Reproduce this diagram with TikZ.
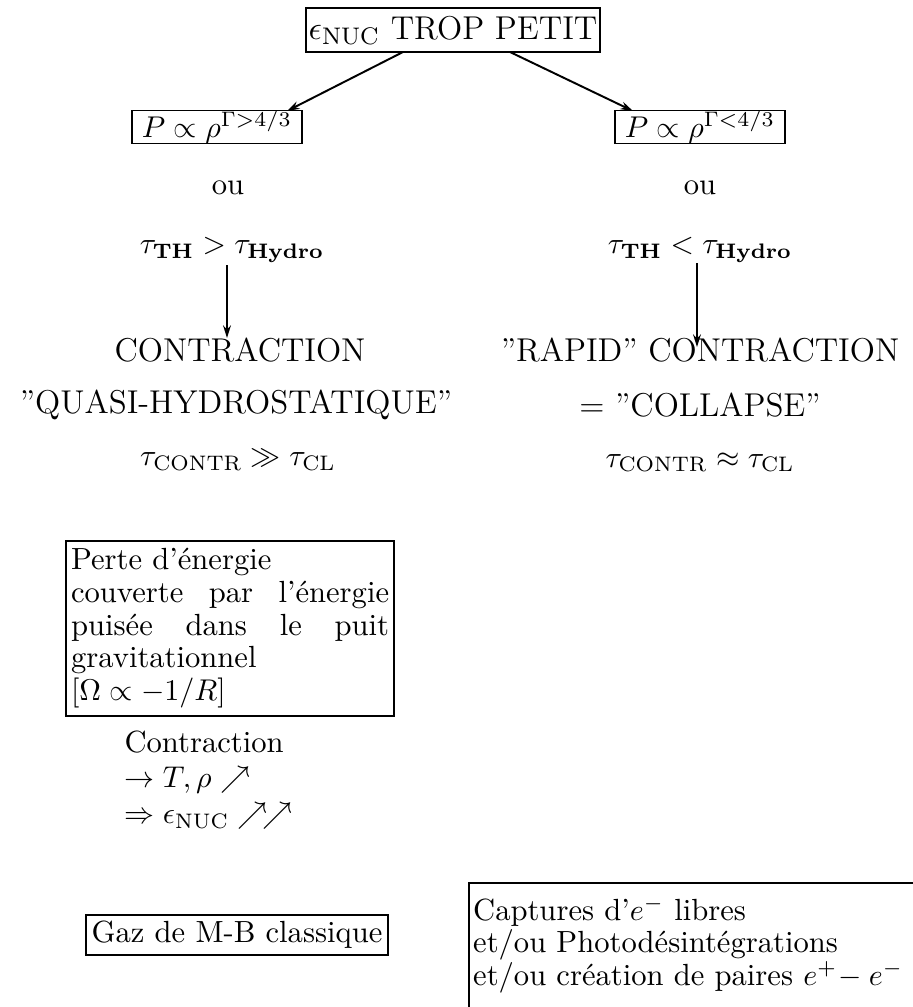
\documentclass[tikz,border=0pt]{standalone}
\usepackage{amsmath,amssymb}
\usetikzlibrary{arrows.meta}
\tikzset{
  bx/.style={draw, line width=0.65pt, inner sep=0pt},
  txt/.style={inner sep=0pt},
  big/.style={font=\fontsize{11}{13}\selectfont},
  nrm/.style={font=\fontsize{10.2}{10.9}\selectfont},
  arr/.style={-{Stealth[length=4.2pt,width=2.6pt]}, line width=0.65pt}
}
\begin{document}
\begin{tikzpicture}[x=0.3333pt,y=-0.3333pt]
\useasboundingbox (0,0) rectangle (913,1007);
% top box
\node[bx,big,minimum width=98.3pt,minimum height=14.7pt] (top) at (453,30) {$\epsilon_{\mathrm{NUC}}$ TROP PETIT};
% P boxes
\node[bx,nrm,minimum width=56.7pt,minimum height=11pt] (pl) at (217,127) {$P\propto\rho^{\Gamma>4/3}$};
\node[bx,nrm,minimum width=56.7pt,minimum height=11pt] (pr) at (700,127) {$P\propto\rho^{\Gamma<4/3}$};
% ou
\node[txt,nrm] (oul) at (228,188) {ou};
\node[txt,nrm] (our) at (700,188) {ou};
% tau
\node[txt,nrm] (tl) at (232,250) {$\tau_{\mathbf{TH}}>\tau_{\mathbf{Hydro}}$};
\node[txt,nrm] (tr) at (700,250) {$\tau_{\mathbf{TH}}<\tau_{\mathbf{Hydro}}$};
% left column
\node[txt,big] (cl) at (240,350) {CONTRACTION};
\node[txt,big] (ql) at (236,405) {”QUASI-HYDROSTATIQUE”};
\node[txt,nrm] (gl) at (238,460) {$\tau_{\mathrm{CONTR}}\gg\tau_{\mathrm{CL}}$};
% right column
\node[txt,big] (cr) at (700,350) {”RAPID” CONTRACTION};
\node[txt,big] (colr) at (700,405) {= ”COLLAPSE”};
\node[txt,nrm] (ar) at (700,462) {$\tau_{\mathrm{CONTR}}\approx\tau_{\mathrm{CL}}$};
% connectors
\coordinate (a1s) at (403,52);
\coordinate (a1e) at (287,111);
\coordinate (a2s) at (510,52);
\coordinate (a2e) at (633,111);
\draw[arr] (a1s) -- (a1e);
\draw[arr] (a2s) -- (a2e);
\coordinate (v1s) at (227,265);
\coordinate (v1e) at (227,338);
\coordinate (v2s) at (697,263);
\coordinate (v2e) at (697,347);
\draw[arr] (v1s) -- (v1e);
\draw[arr] (v2s) -- (v2e);
% Perte box
\node[bx,nrm,text width=106pt,inner xsep=1.7pt,inner ysep=2.5pt,align=left,anchor=north west] (perte) at (65,540) {%
Perte d'énergie\\
\makebox[106pt][l]{couverte\hfill par\hfill l'énergie}\\
\makebox[106pt][l]{puisée\hfill dans\hfill le\hfill puit}\\
gravitationnel\\
$[\Omega\propto -1/R]$};
% contraction text
\node[txt,align=left,anchor=north west,font=\fontsize{10.2}{11.9}\selectfont] (contr) at (124,730) {%
Contraction\\
$\rightarrow T,\rho\nearrow$\\
$\Rightarrow \epsilon_{\mathrm{NUC}}\nearrow\!\nearrow$};
% Gaz box
\node[bx,nrm,inner xsep=2pt,minimum height=13.3pt] (gaz) at (237,935) {Gaz de M-B classique};
% Captures box (cut by the right and bottom edges)
\node[bx,text width=150pt,inner xsep=1.4pt,inner ysep=4.5pt,align=left,anchor=north west,font=\fontsize{10.2}{10.8}\selectfont] (capt) at (468,882) {%
Captures d'$e^-$ libres\\
et/ou Photodésintégrations\\
et/ou création de paires $e^+\!-e^-$\\
\rule{0pt}{1pt}};
\end{tikzpicture}
\end{document}
